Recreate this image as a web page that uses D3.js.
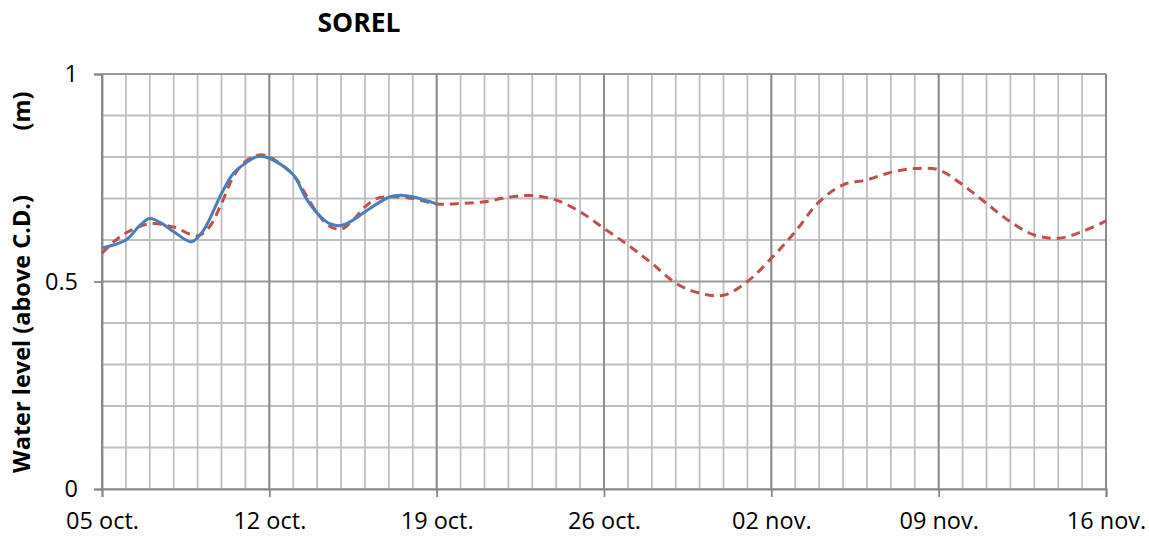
<!doctype html>
<html>
<head>
<meta charset="UTF-8" />
<title>SOREL</title>
<script src="https://d3js.org/d3.v7.min.js"></script>
<style>
  body { margin: 0; background: #fff; }
  text { font-family: "Open Sans", Calibri, sans-serif; fill: #000; }
</style>
</head>
<body>
<div id="container"></div>
<script>

// observed water level (solid blue), day offset from 05 oct.
const obsDays   = [0, 1, 1.6, 2, 2.5, 3, 3.75, 4.25, 5, 5.5, 6, 6.5, 7, 8, 8.5, 9, 9.5, 10, 10.5, 11, 12, 12.5, 13, 14];
const obsLevels = [0.581, 0.600, 0.635, 0.652, 0.640, 0.620, 0.596, 0.624, 0.712, 0.761, 0.785, 0.801, 0.797, 0.757, 0.704, 0.665, 0.640, 0.635, 0.648, 0.668, 0.703, 0.708, 0.704, 0.687];

// predicted water level (dashed red)
const predDays   = [0, 0.5, 1, 2, 3, 4, 4.5, 5, 5.5, 6, 6.6, 7, 8, 8.5, 9, 9.5, 10, 10.5, 11, 11.5, 12, 13, 14, 15, 16, 17, 18, 19, 20, 21, 22, 23, 24, 25, 26, 27, 28, 29, 30, 31, 32, 33, 34, 35, 36, 37, 38, 39, 40, 41, 42];
const predLevels = [0.568, 0.596, 0.617, 0.639, 0.631, 0.610, 0.632, 0.688, 0.753, 0.789, 0.805, 0.800, 0.757, 0.712, 0.665, 0.634, 0.626, 0.648, 0.680, 0.700, 0.704, 0.700, 0.687, 0.688, 0.692, 0.703, 0.707, 0.696, 0.668, 0.628, 0.588, 0.544, 0.496, 0.472, 0.467, 0.500, 0.556, 0.620, 0.692, 0.733, 0.745, 0.763, 0.772, 0.769, 0.733, 0.688, 0.644, 0.612, 0.604, 0.620, 0.646];

// axis labels
const xTickLabels = ["05 oct.", "12 oct.", "19 oct.", "26 oct.", "02 nov.", "09 nov.", "16 nov."];
const yTickLabels = ["0", "0.5", "1"];

const width = 1149;
const height = 539;
const marginTop = 74;
const marginRight = 43;
const marginBottom = 50;
const marginLeft = 102;

const start = new Date(Date.UTC(2015, 9, 5));
const end = d3.utcDay.offset(start, 42);
const toDate = d => d3.utcHour.offset(start, Math.round(d * 24));

const x = d3.scaleUtc()
    .domain([start, end])
    .range([marginLeft, width - marginRight]);

const y = d3.scaleLinear()
    .domain([0, 1])
    .range([height - marginBottom, marginTop]);

const svg = d3.create("svg")
    .attr("width", width)
    .attr("height", height);

// minor grid: every day, every 0.1
const days = d3.utcDay.range(start, d3.utcDay.offset(end, 1));
const weeks = d3.range(0, 43, 7).map(d => d3.utcDay.offset(start, d));

svg.append("g")
    .selectAll("line")
    .data(days)
    .join("line")
      .attr("x1", d => x(d)).attr("x2", d => x(d))
      .attr("y1", y(0)).attr("y2", y(1))
      .attr("stroke", "#bfbfbf")
      .attr("stroke-width", 1.8);

svg.append("g")
    .selectAll("line")
    .data(d3.range(0, 11).map(i => i / 10))
    .join("line")
      .attr("x1", x(start)).attr("x2", x(end))
      .attr("y1", d => y(d)).attr("y2", d => y(d))
      .attr("stroke", d => (d === 0.5 || d === 1) ? "#9a9a9a" : "#bfbfbf")
      .attr("stroke-width", 1.8);

// major grid: weeks
svg.append("g")
    .selectAll("line")
    .data(weeks)
    .join("line")
      .attr("x1", d => x(d)).attr("x2", d => x(d))
      .attr("y1", y(0)).attr("y2", y(1))
      .attr("stroke", "#888")
      .attr("stroke-width", 1.8);

// x axis
const xAxis = svg.append("g")
    .attr("transform", `translate(0,${y(0)})`)
    .call(d3.axisBottom(x).tickValues(weeks).tickSize(8).tickPadding(15)
      .tickFormat((d, i) => xTickLabels[i]));
xAxis.select(".domain").attr("stroke", "#888").attr("stroke-width", 1.8);
xAxis.selectAll(".tick line").attr("stroke", "#888").attr("stroke-width", 1.8);
xAxis.selectAll(".tick text").attr("font-size", 23.5).attr("font-family", "Open Sans").attr("fill", "#000");

// y axis
const yAxis = svg.append("g")
    .attr("transform", `translate(${marginLeft},0)`)
    .call(d3.axisLeft(y).tickValues([0, 0.5, 1]).tickSize(8).tickPadding(16)
      .tickFormat((d, i) => yTickLabels[i]));
yAxis.select(".domain").attr("stroke", "#888").attr("stroke-width", 1.8);
yAxis.selectAll(".tick line").attr("stroke", "#888").attr("stroke-width", 1.8);
yAxis.selectAll(".tick text").attr("font-size", 23.5).attr("font-family", "Open Sans").attr("fill", "#000");

const line = d3.line()
    .x(d => x(toDate(d[0])))
    .y(d => y(d[1]))
    .curve(d3.curveCatmullRom.alpha(0.5));

svg.append("path")
    .datum(d3.zip(predDays, predLevels))
    .attr("fill", "none")
    .attr("stroke", "#c0504d")
    .attr("stroke-width", 3)
    .attr("stroke-dasharray", "9,6")
    .attr("d", line);

svg.append("path")
    .datum(d3.zip(obsDays, obsLevels))
    .attr("fill", "none")
    .attr("stroke", "#4a7ebb")
    .attr("stroke-width", 3)
    .attr("d", line);

// title
svg.append("text")
    .attr("x", 359)
    .attr("y", 32)
    .attr("text-anchor", "middle")
    .attr("font-size", 26.5)
    .attr("font-weight", "bold")
    .text("SOREL");

// y label
svg.append("text")
    .attr("transform", "translate(30,334) rotate(-90)")
    .attr("text-anchor", "middle")
    .attr("font-size", 23.5)
    .attr("font-weight", "bold")
    .text("Water level (above C.D.)");

svg.append("text")
    .attr("transform", "translate(30,111) rotate(-90)")
    .attr("text-anchor", "middle")
    .attr("font-size", 23.5)
    .attr("font-weight", "bold")
    .text("(m)");

container.append(svg.node());
</script>
</body>
</html>
